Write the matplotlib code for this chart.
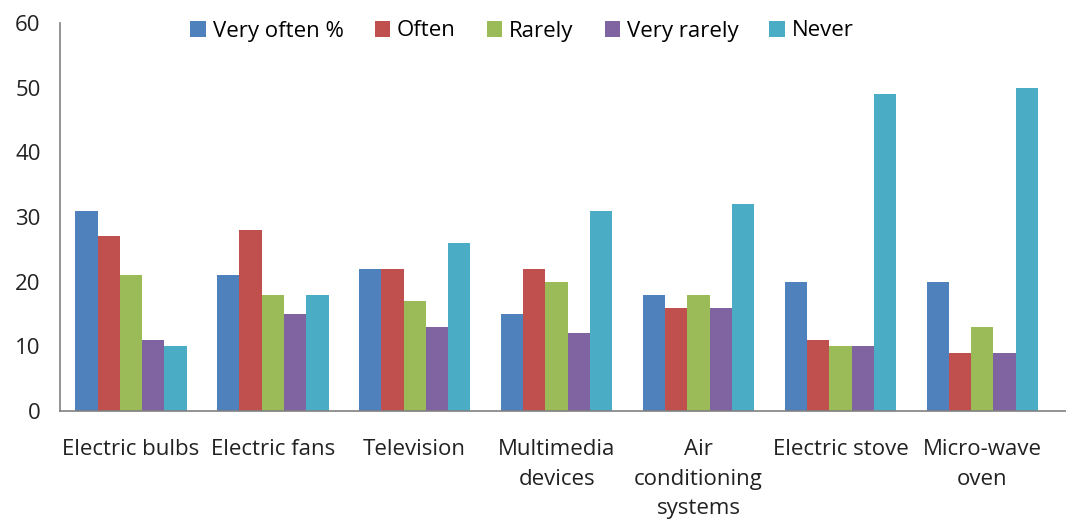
import matplotlib
matplotlib.use("Agg")
import matplotlib.pyplot as plt
import numpy as np

categories = ["Electric bulbs", "Electric fans", "Television", "Multimedia\ndevices",
              "Air\nconditioning\nsystems", "Electric stove", "Micro-wave\noven"]
series_names = ["Very often %", "Often", "Rarely", "Very rarely", "Never"]
very_often = [31, 21, 22, 15, 18, 20, 20]
often = [27, 28, 22, 22, 16, 11, 9]
rarely = [21, 18, 17, 20, 18, 10, 13]
very_rarely = [11, 15, 13, 12, 16, 10, 9]
never = [10, 18, 26, 31, 32, 49, 50]
series = [very_often, often, rarely, very_rarely, never]
colors = ["#4F81BD", "#C0504D", "#9BBB59", "#8064A2", "#4BACC6"]

plt.rcParams['font.family'] = ['Open Sans', 'DejaVu Sans']

fig = plt.figure(figsize=(10.66, 5.21), dpi=100)
ax = fig.add_axes([60/1066, 110/521, 1 - 60/1066, (411-23)/521])

x = np.arange(len(categories))
bw = 0.157
for i, (vals, name, c) in enumerate(zip(series, series_names, colors)):
    ax.bar(x + (i - 2) * bw, vals, width=bw, color=c, label=name)

ax.set_ylim(0, 60)
ax.set_xlim(-0.5, 6.59)
ax.set_yticks(range(0, 61, 10))
ax.set_xticks(x)
ax.set_xticklabels(categories, fontsize=16, color="#222222", linespacing=1.55)
ax.tick_params(axis='both', length=0, labelsize=16, labelcolor="#222222")
ax.tick_params(axis='y', pad=14)
ax.tick_params(axis='x', pad=20)
for s in ["top", "right"]:
    ax.spines[s].set_visible(False)
for s in ["left", "bottom"]:
    ax.spines[s].set_color("#808080")
    ax.spines[s].set_linewidth(1.2)

leg = ax.legend(loc="center", ncol=5, frameon=False, fontsize=16,
                handlelength=0.7, handleheight=0.7, handletextpad=0.3, columnspacing=1.4)
leg.set_bbox_to_anchor((522/1066, 1 - 31/521), transform=fig.transFigure)

fig.savefig("out.png", dpi=100)
